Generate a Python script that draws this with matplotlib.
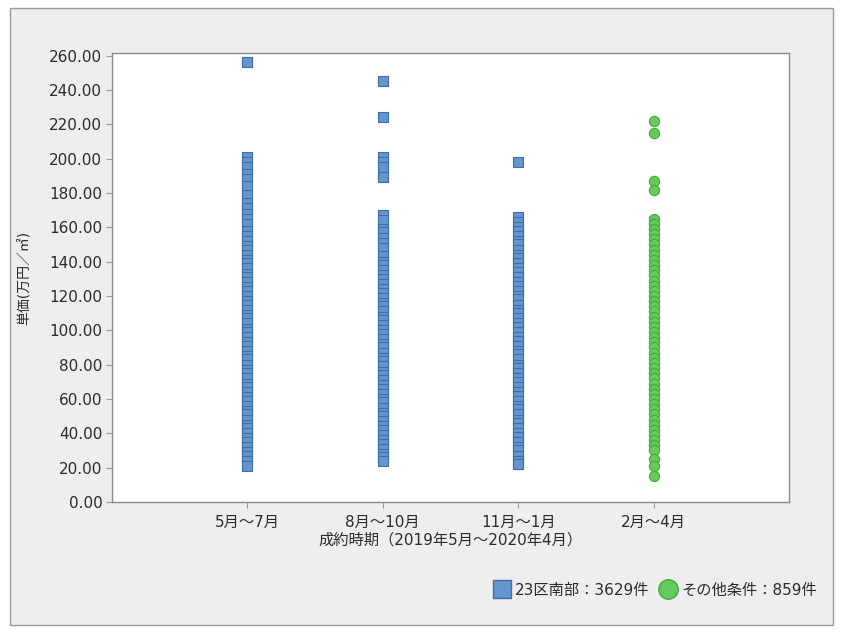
import numpy as np
import matplotlib.pyplot as plt
from matplotlib.patches import Rectangle
from matplotlib.lines import Line2D

plt.rcParams['font.family'] = ['DejaVu Sans', 'Noto Sans CJK JP']

categories = ['5月～7月', '8月～10月', '11月～1月', '2月～4月']

# 23区南部 (squares), one list per period
south_p1 = [256, 201, 198, 195, 191, 188, 184, 179, 174, 171, 168, 165, 162, 158,
            155, 152, 149, 147, 144, 141, 139, 136, 133, 131, 128, 125, 123, 120,
            117, 115, 112, 109, 107, 104, 101, 99, 96, 93, 91, 88, 85, 83, 80, 77,
            75, 72, 69, 67, 64, 61, 59, 56, 53, 51, 48, 45, 43, 40, 37, 35, 32, 29,
            27, 24, 21]
south_p2 = [245, 224, 201, 198, 195, 189, 167, 164, 159, 157, 154, 151, 148, 143,
            140, 138, 135, 132, 130, 127, 124, 122, 119, 116, 114, 111, 108, 106,
            103, 100, 98, 95, 92, 90, 87, 84, 82, 79, 76, 74, 71, 68, 66, 63, 60,
            58, 55, 52, 50, 47, 44, 42, 39, 36, 34, 31, 28, 26, 24]
south_p3 = [198, 166, 163, 160, 158, 155, 152, 150, 147, 144, 142, 139, 136, 134,
            131, 128, 126, 123, 120, 118, 115, 112, 110, 107, 104, 102, 99, 96, 94,
            91, 88, 86, 83, 80, 78, 75, 72, 70, 67, 64, 62, 59, 56, 54, 51, 48, 46,
            43, 40, 38, 35, 32, 30, 27, 24, 22]
# その他条件 (circles), last period only
other_p4 = [222, 215, 187, 182, 165, 162, 159, 156, 153, 150, 147, 144, 141, 138,
            135, 132, 129, 126, 123, 120, 117, 114, 111, 108, 105, 102, 99, 96, 93,
            90, 87, 84, 81, 78, 75, 72, 69, 66, 63, 60, 57, 54, 51, 48, 45, 42, 39,
            36, 33, 30, 25, 21, 15]

south_label = '23区南部：3629件'
other_label = 'その他条件：859件'
yticks = np.arange(0, 261, 20)

txt = '#2b2b2b'

fig = plt.figure(figsize=(8.44, 6.37), dpi=100, facecolor='white')
fig.patches.append(Rectangle((10 / 844, 1 - 625 / 637), 823 / 844, 617 / 637,
                             transform=fig.transFigure, facecolor='#eeeeee',
                             edgecolor='#9a9a9a', lw=1, zorder=-10))

ax = fig.add_axes([112 / 844, 1 - 502 / 637, 677 / 844, 449 / 637])
ax.set_facecolor('white')

sq = dict(marker='s', s=62, facecolor='#6495cd', edgecolor='#3f6ea5', lw=0.8)
for i, vals in enumerate([south_p1, south_p2, south_p3]):
    ax.scatter([i + 1] * len(vals), vals, **sq, zorder=3)
ax.scatter([4] * len(other_p4), other_p4, marker='o', s=55, facecolor='#66c95a',
           edgecolor='#45a83c', lw=0.8, zorder=3)

ax.set_xlim(0, 5)
ax.set_ylim(0, 261.5)
ax.set_xticks(range(1, 5))
ax.set_xticklabels(categories, fontsize=11, color=txt)
ax.set_yticks(yticks)
ax.set_yticklabels(['%.2f' % v for v in yticks], fontsize=11, color=txt)
ax.tick_params(length=4, color='#999999', pad=3)
ax.tick_params(axis='x', pad=5)
for s in ax.spines.values():
    s.set_color('#8a8a8a')
    s.set_linewidth(1)

ax.set_xlabel('成約時期（2019年5月～2020年4月）', fontsize=11, color=txt,
              labelpad=2)
ax.set_ylabel('単価(万円／㎡)', fontsize=10, color=txt)
ax.yaxis.set_label_coords(-0.12, 0.5)

handles = [Line2D([], [], marker='s', ls='', ms=13, markerfacecolor='#6495cd',
                  markeredgecolor='#3f6ea5'),
           Line2D([], [], marker='o', ls='', ms=14, markerfacecolor='#66c95a',
                  markeredgecolor='#45a83c')]
fig.legend(handles, [south_label, other_label], loc='center right',
           bbox_to_anchor=(0.985, 1 - 590 / 637), ncol=2, frameon=False,
           fontsize=11, handletextpad=0.3, columnspacing=0.6, handlelength=1.2,
           labelcolor=txt)

fig.savefig('out.png', dpi=100, facecolor='white')
